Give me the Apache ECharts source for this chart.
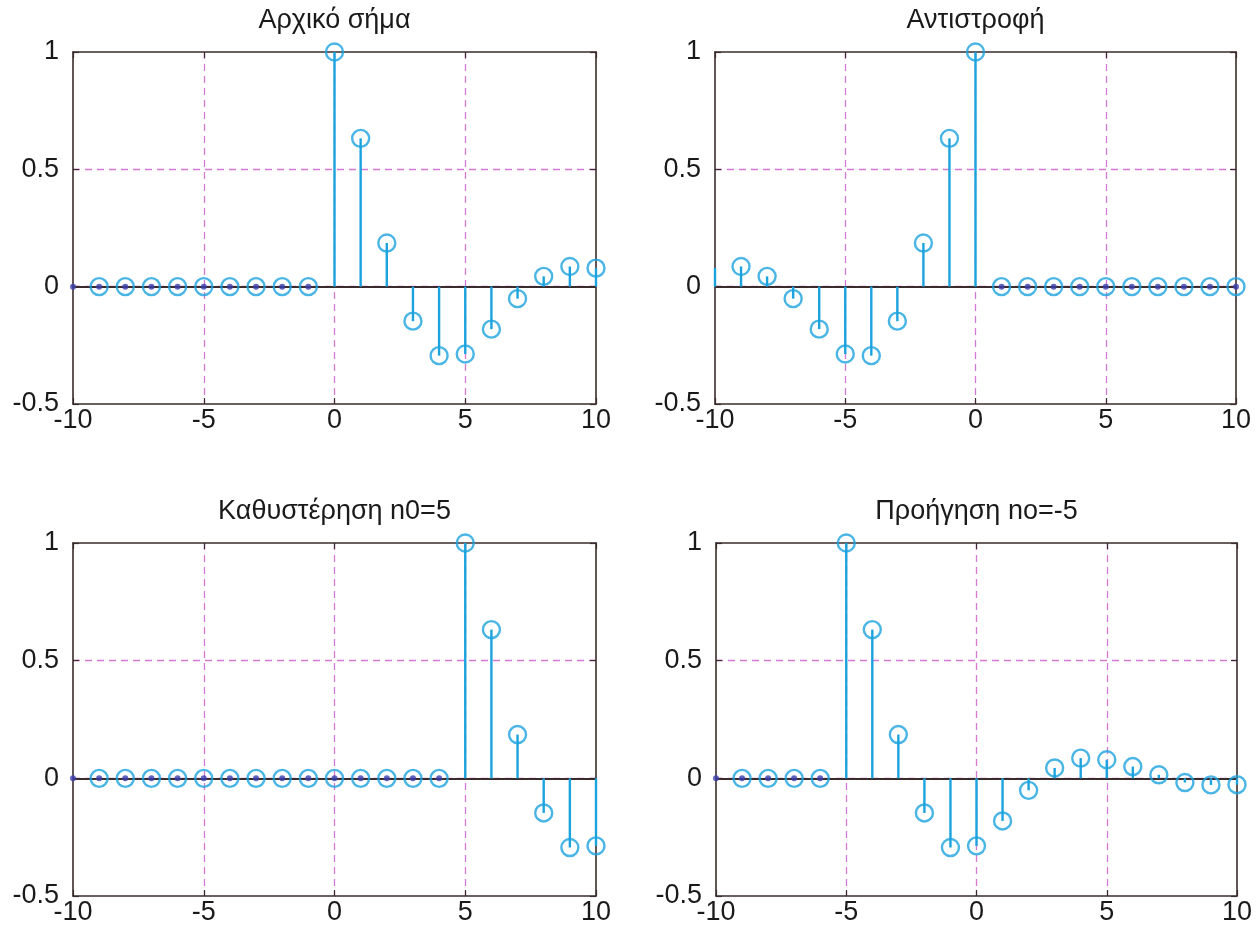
<!DOCTYPE html>
<html>
<head>
<meta charset="utf-8">
<script src="https://cdn.jsdelivr.net/npm/echarts@6/dist/echarts.min.js"></script>
<style>
html,body{margin:0;padding:0;background:#fff;}
#chart{width:1256px;height:931px;}
</style>
</head>
<body>
<div id="chart"></div>
<script>
// ---- data ----
const n = [-10,-9,-8,-7,-6,-5,-4,-3,-2,-1,0,1,2,3,4,5,6,7,8,9,10];
const original = [0,0,0,0,0,0,0,0,0,0, 1,0.632,0.186,-0.147,-0.294,-0.287,-0.181,-0.051,0.044,0.086,0.079];
const reversed = [0.079,0.086,0.044,-0.051,-0.181,-0.287,-0.294,-0.147,0.186,0.632,1, 0,0,0,0,0,0,0,0,0,0];
const delayed  = [0,0,0,0,0,0,0,0,0,0,0,0,0,0,0, 1,0.632,0.186,-0.147,-0.294,-0.287];
const advanced = [0,0,0,0,0, 1,0.632,0.186,-0.147,-0.294,-0.287,-0.181,-0.051,0.044,0.086,0.079,0.05,0.015,-0.018,-0.028,-0.027];
const titles = ['Αρχικό σήμα','Αντιστροφή','Καθυστέρηση n0=5','Προήγηση no=-5'];
const signals = [original, reversed, delayed, advanced];
const xTicks = [-10,-5,0,5,10];
const yTicks = [-0.5,0,0.5,1];

// ---- style ----
const STEM = '#1ba3de';
const DOT = '#3a3fae';
const FRAME = '#3a2c2c';
const GRIDC = '#d579d5';
const FONT = 'Liberation Sans, Arial, sans-serif';
const FS = 27;

const grids = [
  {left:73, top:52, width:523, height:352},
  {left:715, top:52, width:521, height:352},
  {left:73, top:543, width:523, height:353},
  {left:716, top:543, width:521, height:353}
];

const chart = echarts.init(document.getElementById('chart'));
const xAxes = [], yAxes = [];
grids.forEach((g, i) => {
  // bottom / left axes with labels
  xAxes.push({
    type:'value', gridIndex:i, min:-10, max:10, interval:5, position:'bottom',
    axisLine:{show:true, onZero:false, lineStyle:{color:FRAME, width:1.6}},
    axisTick:{show:true, inside:true, length:6, lineStyle:{color:FRAME, width:1.2}},
    axisLabel:{color:'#1a1a1a', fontSize:FS, fontFamily:FONT, margin:3,
      formatter: v => xTicks.includes(v) ? String(v) : ''},
    splitLine:{show:true, showMinLine:false, showMaxLine:false,
      lineStyle:{color:GRIDC, type:[7,5], width:1.3}}
  });
  yAxes.push({
    type:'value', gridIndex:i, min:-0.5, max:1, interval:0.5, position:'left',
    axisLine:{show:true, onZero:false, lineStyle:{color:FRAME, width:1.6}},
    axisTick:{show:true, inside:true, length:6, lineStyle:{color:FRAME, width:1.2}},
    axisLabel:{color:'#1a1a1a', fontSize:FS, fontFamily:FONT, margin:14,
      formatter: v => yTicks.includes(v) ? String(v) : ''},
    splitLine:{show:true, showMinLine:false, showMaxLine:false,
      lineStyle:{color:GRIDC, type:[7,5], width:1.3}}
  });
});
grids.forEach((g, i) => {
  // mirrored top / right axes (frame + inward ticks only)
  xAxes.push({
    type:'value', gridIndex:i, min:-10, max:10, interval:5, position:'top',
    axisLine:{show:true, onZero:false, lineStyle:{color:FRAME, width:1.6}},
    axisTick:{show:true, inside:true, length:6, lineStyle:{color:FRAME, width:1.2}},
    axisLabel:{show:false}, splitLine:{show:false}
  });
  yAxes.push({
    type:'value', gridIndex:i, min:-0.5, max:1, interval:0.5, position:'right',
    axisLine:{show:true, onZero:false, lineStyle:{color:FRAME, width:1.6}},
    axisTick:{show:true, inside:true, length:6, lineStyle:{color:FRAME, width:1.2}},
    axisLabel:{show:false}, splitLine:{show:false}
  });
});

const option = {
  backgroundColor:'#fff',
  animation:false,
  grid: grids.map(g => Object.assign({show:false}, g)),
  graphic: grids.map((g,i) => ({
    type:'text', x: g.left + g.width/2, y: g.top - 45,
    style:{text: titles[i], fill:'#1a1a1a', font:FS + 'px ' + FONT, align:'center', verticalAlign:'top'}
  })),
  xAxis: xAxes,
  yAxis: yAxes,
  series: []
};

signals.forEach((sig, i) => {
  const pts = n.map((x, k) => [x, sig[k]]);
  // stems
  option.series.push({
    type:'custom', xAxisIndex:i, yAxisIndex:i, z:3,
    data: pts.filter(p => p[1] !== 0),
    renderItem: (params, api) => {
      const p0 = api.coord([api.value(0), 0]);
      const p1 = api.coord([api.value(0), api.value(1)]);
      return {type:'line', shape:{x1:p0[0], y1:p0[1], x2:p1[0], y2:p1[1]},
        style:{stroke:STEM, lineWidth:2.4}};
    },
    markLine:{
      silent:true, symbol:['none','none'], label:{show:false},
      lineStyle:{color:FRAME, width:1.8, type:'solid'},
      data:[{yAxis:0}], z:2
    }
  });
  // circle markers (edge point at n=-10 is cut off in the reference)
  option.series.push({
    type:'scatter', xAxisIndex:i, yAxisIndex:i, z:4,
    data: pts.filter(p => p[0] > -10),
    symbol:'circle', symbolSize:17,
    itemStyle:{color:'rgba(0,0,0,0)', borderColor:STEM, borderWidth:2.4}
  });
  // small center dots at zero-valued samples
  option.series.push({
    type:'scatter', xAxisIndex:i, yAxisIndex:i, z:5,
    data: pts.filter(p => p[1] === 0),
    symbol:'circle', symbolSize:6,
    itemStyle:{color:DOT}
  });
});

chart.setOption(option);
</script>
</body>
</html>
